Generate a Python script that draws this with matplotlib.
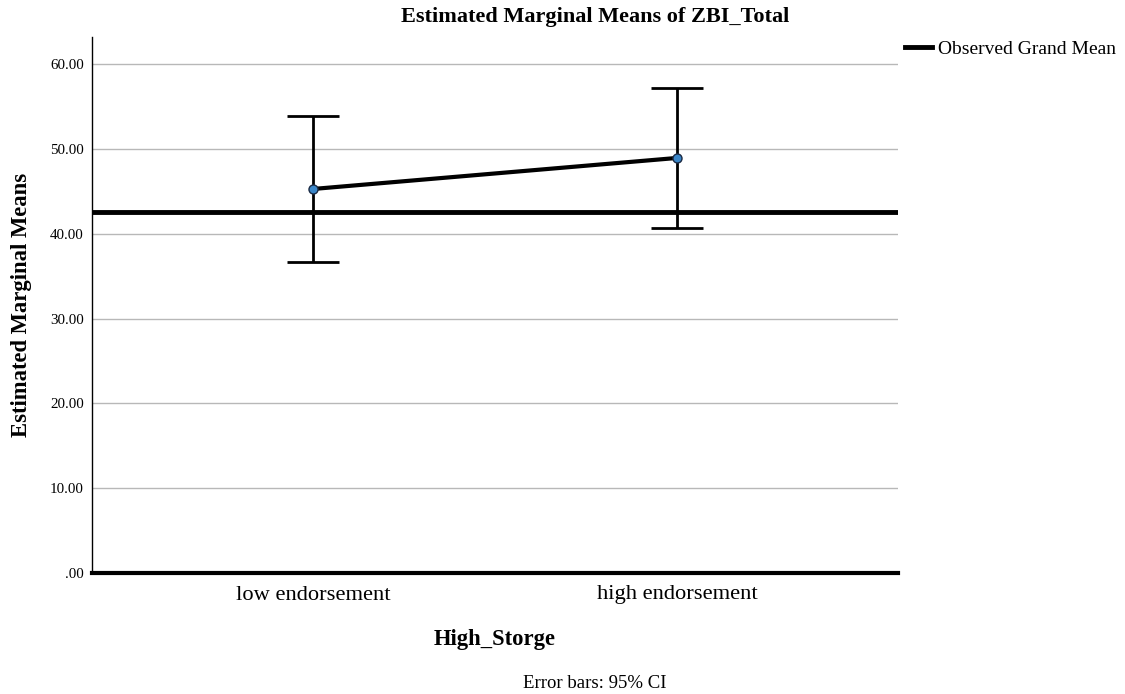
import matplotlib.pyplot as plt

# estimated marginal means with 95% CI bounds
groups = ['low endorsement', 'high endorsement']
means = [45.28, 48.94]
ci_lower = [36.7, 40.7]
ci_upper = [53.9, 57.2]
grand_mean = 42.57
y_ticks = [0, 10, 20, 30, 40, 50, 60]
y_tick_labels = ['.00', '10.00', '20.00', '30.00', '40.00', '50.00', '60.00']

plt.rcParams['font.family'] = ['Liberation Serif', 'DejaVu Serif']

fig = plt.figure(figsize=(11.25, 6.94), dpi=100)
ax = fig.add_axes([92 / 1125, 1 - 573 / 694, 806 / 1125, 536 / 694])

x = list(range(len(groups)))
err_low = [m - lo for m, lo in zip(means, ci_lower)]
err_high = [hi - m for m, hi in zip(means, ci_upper)]

ax.set_ylim(0, 63.2)
ax.set_xlim(-0.607, 1.607)
ax.set_yticks(y_ticks)
ax.set_yticklabels(y_tick_labels, fontsize=10.8)
ax.yaxis.grid(True, color='#b8b8b8', linewidth=1)
ax.set_axisbelow(True)

ax.axhline(grand_mean, color='black', linewidth=3.5, zorder=2, label='Observed Grand Mean')
ax.errorbar(x, means, yerr=[err_low, err_high], fmt='none', ecolor='black',
            elinewidth=2, capsize=19, capthick=2, zorder=3)
ax.plot(x, means, color='black', linewidth=3, zorder=4)
ax.plot(x, means, 'o', markersize=6.5, markerfacecolor='#3a86c8',
        markeredgecolor='#1a2a44', markeredgewidth=1, zorder=5)

ax.set_xticks(x)
ax.set_xticklabels(groups, fontsize=16.2)
ax.tick_params(axis='x', length=0, pad=9)
ax.tick_params(axis='y', length=0, pad=6)

for side in ['top', 'right']:
    ax.spines[side].set_visible(False)
ax.spines['left'].set_linewidth(1)
ax.spines['bottom'].set_linewidth(3)

fig.text(595 / 1125, 1 - 17 / 694, 'Estimated Marginal Means of ZBI_Total',
         ha='center', va='center', fontsize=16, fontweight='bold')
ax.set_ylabel('Estimated Marginal Means', fontsize=16.3, fontweight='bold', labelpad=13)
ax.set_xlabel('High_Storge', fontsize=16.3, fontweight='bold', labelpad=18)

ax.legend(loc='upper left', bbox_to_anchor=(0.999, 1.008), frameon=False,
          fontsize=14, handlelength=1.4, handletextpad=0.3, borderaxespad=0)

fig.text(595 / 1125, 1 - 683 / 694, 'Error bars: 95% CI', ha='center', va='center', fontsize=13.5)

fig.savefig('out.png', dpi=100)
